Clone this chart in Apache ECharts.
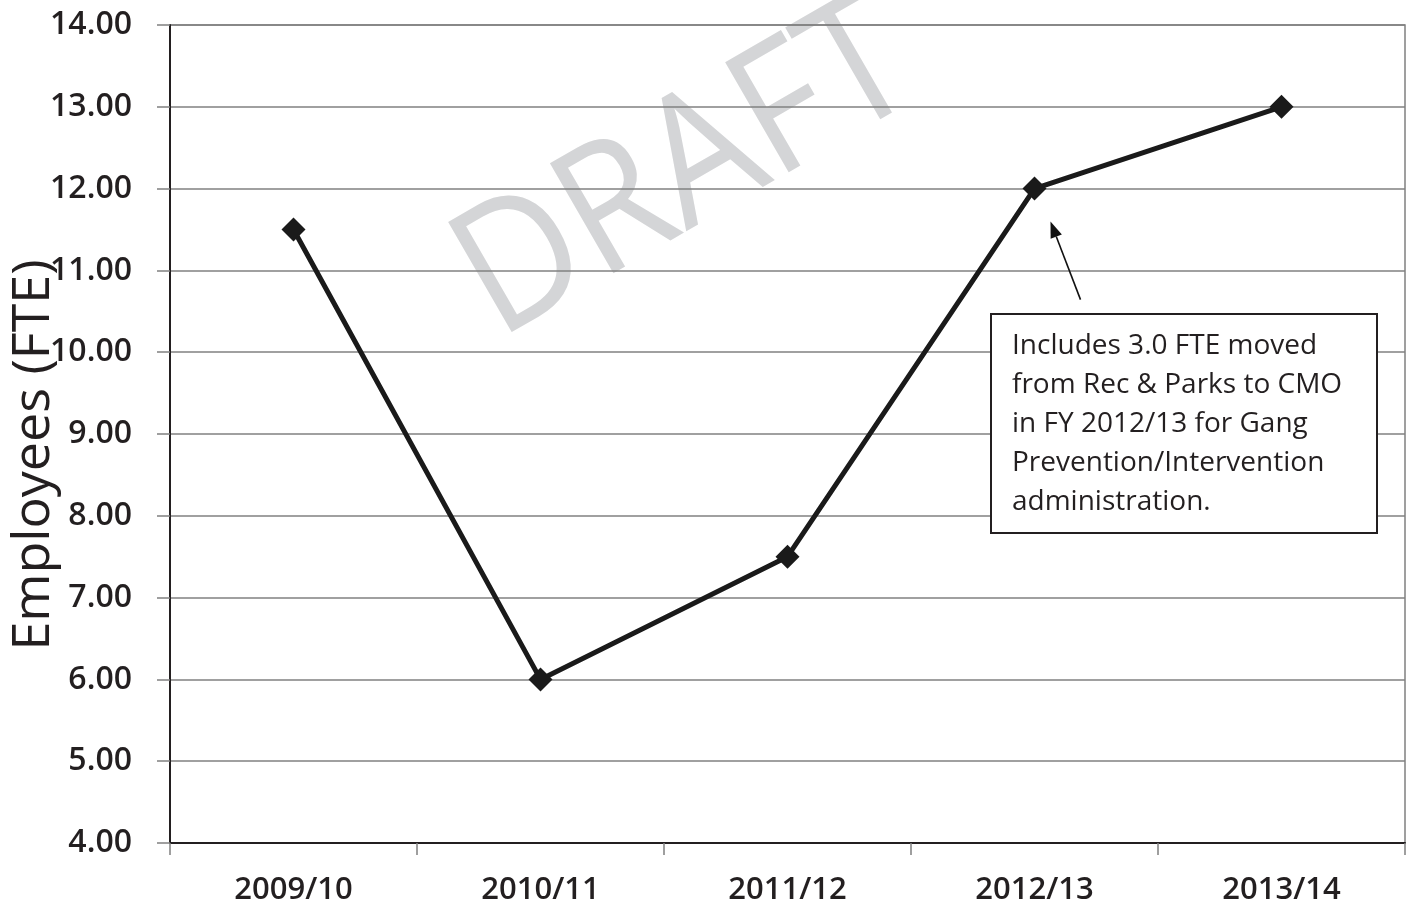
<!DOCTYPE html>
<html>
<head>
<meta charset="utf-8">
<script src="https://cdn.jsdelivr.net/npm/echarts@6/dist/echarts.min.js"></script>
<style>
  html, body { margin: 0; padding: 0; background: #fff; }
  #chart { width: 1412px; height: 907px; }
</style>
</head>
<body>
<div id="chart"></div>
<script>
// Fiscal years and staffing levels (FTE)
const years = ['2009/10', '2010/11', '2011/12', '2012/13', '2013/14'];
const fte = [11.5, 6.0, 7.5, 12.0, 13.0];
const yMin = 4;
const yMax = 14;
const yStep = 1;
const axisTitle = 'Employees (FTE)';
const watermark = 'DRAFT';
const noteLines = [
  'Includes 3.0 FTE moved',
  'from Rec & Parks to CMO',
  'in FY 2012/13 for Gang',
  'Prevention/Intervention',
  'administration.'
];
const noteIndex = 3; // the year the note points at

const ink = '#231f20';
const gridGrey = '#808080';
const font = '"Open Sans", "Noto Sans", sans-serif';

const chart = echarts.init(document.getElementById('chart'), null, { renderer: 'canvas' });

chart.setOption({
  animation: false,
  backgroundColor: '#ffffff',
  grid: {
    left: 170, right: 7, top: 25, bottom: 64,
    show: true, borderColor: gridGrey, borderWidth: 1.5, backgroundColor: 'transparent'
  },
  xAxis: {
    type: 'category',
    data: years,
    boundaryGap: true,
    axisLine: { show: true, lineStyle: { color: ink, width: 2 } },
    axisTick: { show: true, interval: 0, length: 12, lineStyle: { color: gridGrey, width: 1.5 } },
    axisLabel: {
      interval: 0, margin: 32,
      color: ink, fontFamily: font, fontWeight: 600, fontSize: 31
    },
    splitLine: { show: false }
  },
  yAxis: {
    type: 'value',
    min: yMin, max: yMax, interval: yStep,
    axisLine: { show: true, onZero: false, lineStyle: { color: ink, width: 2 } },
    axisTick: { show: true, length: 13, lineStyle: { color: gridGrey, width: 1.5 } },
    axisLabel: {
      margin: 38,
      color: ink, fontFamily: font, fontWeight: 600, fontSize: 32,
      formatter: v => v.toFixed(2)
    },
    splitLine: { show: true, lineStyle: { color: gridGrey, width: 1.5 } }
  },
  series: [{
    type: 'line',
    data: fte,
    z: 5,
    symbol: 'diamond',
    symbolSize: 24,
    lineStyle: { color: '#1a1a1a', width: 5 },
    itemStyle: { color: '#1a1a1a' }
  }]
});

// Annotation box, arrow, axis title and watermark, positioned from the axes
function drawExtras() {
  const pt = chart.convertToPixel({ gridIndex: 0 }, [years[noteIndex], fte[noteIndex]]);
  const tip = [pt[0] + 16, pt[1] + 33];
  const tail = [tip[0] + 30, tip[1] + 78];
  const ang = Math.atan2(tip[1] - tail[1], tip[0] - tail[0]);
  const hl = 16, hw = 6;
  const base = [tip[0] - hl * Math.cos(ang), tip[1] - hl * Math.sin(ang)];
  const head = [
    tip,
    [base[0] + hw * Math.sin(ang), base[1] - hw * Math.cos(ang)],
    [base[0] - hw * Math.sin(ang), base[1] + hw * Math.cos(ang)]
  ];

  const boxX = 991, boxY = 314, boxW = 386, boxH = 219;

  chart.setOption({
    graphic: [
      {
        type: 'text', z: -10, silent: true,
        x: 686, y: 173, rotation: Math.PI / 6, scaleX: 0.91,
        style: {
          text: watermark, fill: '#d4d5d7',
          font: '400 178px ' + font,
          textAlign: 'center', textVerticalAlign: 'middle'
        }
      },
      {
        type: 'text', z: 10, silent: true,
        x: 34, y: 455, rotation: Math.PI / 2,
        style: {
          text: axisTitle, fill: ink,
          font: '500 52px ' + font,
          textAlign: 'center', textVerticalAlign: 'middle'
        }
      },
      {
        type: 'line', z: 10, silent: true,
        shape: { x1: tail[0], y1: tail[1], x2: base[0], y2: base[1] },
        style: { stroke: '#111', lineWidth: 1.6 }
      },
      {
        type: 'polygon', z: 10, silent: true,
        shape: { points: head },
        style: { fill: '#111' }
      },
      {
        type: 'rect', z: 10, silent: true,
        shape: { x: boxX, y: boxY, width: boxW, height: boxH },
        style: { fill: '#ffffff', stroke: ink, lineWidth: 2 }
      },
      {
        type: 'text', z: 11, silent: true,
        x: boxX + 21, y: boxY + 13,
        style: {
          text: noteLines.join('\n'), fill: ink,
          font: '400 28px ' + font,
          lineHeight: 39,
          textAlign: 'left', textVerticalAlign: 'top'
        }
      }
    ]
  });
}
drawExtras();
</script>
</body>
</html>
